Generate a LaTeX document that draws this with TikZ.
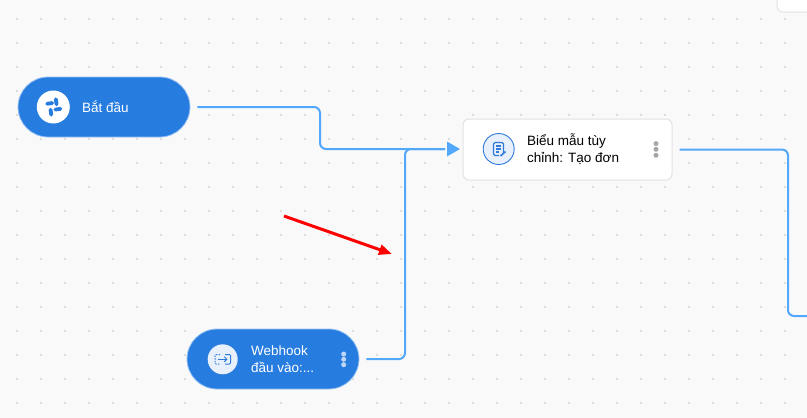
\documentclass[tikz,border=0pt]{standalone}
\usepackage{fontspec}
\setmainfont{Liberation Sans}
\usetikzlibrary{arrows.meta,calc,positioning}

\definecolor{canvasbg}{HTML}{F9F9F9}
\definecolor{griddot}{HTML}{DCDCDC}
\definecolor{pillblue}{HTML}{277CDF}
\definecolor{pilledge}{HTML}{9CC4F2}
\definecolor{flowblue}{HTML}{52A8FB}
\definecolor{cardedge}{HTML}{E2E2E2}
\definecolor{iconbg}{HTML}{E8F0FB}
\definecolor{iconblue}{HTML}{2F7ADB}
\definecolor{menugray}{HTML}{A6A6A6}
\definecolor{menulight}{HTML}{BFD7F5}

\tikzset{
  pill/.style={draw=pilledge,line width=0.8pt,fill=pillblue,rounded corners=30pt,minimum width=172pt,minimum height=60pt,inner sep=0pt},
  card/.style={draw=cardedge,line width=1pt,fill=white,rounded corners=6pt,inner sep=0pt},
  label/.style={font=\fontsize{13.5}{17}\selectfont,align=left,anchor=west,inner sep=0pt},
  iconbadge/.style={circle,inner sep=0pt,minimum size=#1},
  flow/.style={draw=flowblue,line width=2pt,rounded corners=6pt},
  menudot/.style={circle,inner sep=0pt,minimum size=5pt,fill=#1},
}

\begin{document}
\begin{tikzpicture}[x=1pt,y=-1pt]

% Canvas
\useasboundingbox (0,0) rectangle (807,418);
\clip (0,0) rectangle (807,418);
\fill[canvasbg] (0,0) rectangle (807,418);

% Grid dots
\foreach \gx in {0,...,33} {
  \foreach \gy in {0,...,16} {
    \fill[griddot] (17+24*\gx-1,19+24*\gy-1) rectangle ++(2,2);
  }
}

% Nodes
\node[pill] (start) at (104,107) {};
\node[pill] (webhook) at (273,359) {};
\node[card,minimum width=209pt,minimum height=61pt] (form) at (567.5,149.5) {};
\node[card,minimum width=80pt,minimum height=40pt] (corner) at (817,-8) {};

% Node labels
\node[label,text=white] (startlabel) at (82,107) {Bắt đầu};
\node[label] (formlabel) at (527,149) {Biểu mẫu tùy\\chỉnh: Tạo đơn};
\node[label,text=white] (webhooklabel) at (251,359.5) {Webhook\\đầu vào:...};

% Start icon
\node[iconbadge=33pt,fill=white] (starticon) at (53.3,107) {};
\foreach \ang/\ox/\oy in {82/2.9/-5.2, -8/-3.6/-3.6, 82/-2.4/5.2, -8/4.6/2.2} {
  \draw[pillblue,line width=3.8pt,line cap=round] ($(starticon.center)+(\ox,\oy)+(\ang:-2.6)$) -- ++(\ang:5.2);
}

% Form icon
\node[iconbadge=31pt,fill=iconbg,draw=iconblue,line width=0.9pt] (formicon) at (498.7,149) {};
\draw[iconblue,line width=1.1pt,rounded corners=1.5pt] (503.5,153) -- (503.5,142.5) -- (493.5,142.5) -- (493.5,155.5) -- (499,155.5);
\draw[iconblue,line width=1.1pt] (495.8,146) -- (501.2,146) (495.8,149) -- (501.2,149) (495.8,152) -- (498.5,152);
\draw[iconblue,line width=1.6pt] (500.5,156) -- (505.5,151.5);

% Webhook icon
\node[iconbadge=30pt,fill=iconbg] (webhookicon) at (222.7,359.3) {};
\draw[iconblue,line width=1pt,rounded corners=1pt] (225,354.5) -- (230.5,354.5) -- (230.5,364) -- (225,364);
\draw[iconblue,line width=1pt,dash pattern=on 1.5pt off 1.2pt,rounded corners=1pt] (220,354.5) -- (215,354.5) -- (215,364) -- (220,364);
\draw[iconblue,line width=1pt,-{Straight Barb[length=2.5pt,width=5pt]}] (217.5,359.3) -- (227.5,359.3);

% Menu dots
\foreach \dy [count=\i] in {-5.7,0,6} {
  \node[menudot=menugray] (formdot\i) at (656,149.3+\dy) {};
}
\foreach \dy [count=\i] in {-5.3,0,5.4} {
  \node[menudot=menulight] (webhookdot\i) at (343.7,359.3+\dy) {};
}

% Connector ends
\coordinate (tip) at (447,149);
\coordinate (startbend) at (320,128);
\coordinate (webhookbend) at (405,250);
\coordinate (exitbend) at (788,230);
\coordinate (exit) at (808,316);

% Connectors
\draw[flow,shorten <=7pt,shorten >=2pt] (start.east) -- (startbend |- start.east) -- (startbend |- tip) -- (tip);
\draw[flow,shorten <=7pt,shorten >=2pt] (webhook.east) -- (webhookbend |- webhook.east) -- (webhookbend |- tip) -- (tip);
\draw[flow,shorten <=7pt] (form.east) -- (exitbend |- form.east) -- (exitbend |- exit) -- (exit);

% Inlet triangle
\fill[flowblue] (tip) ++(0,-7.5) -- ++(13,7.5) -- ++(-13,7.5) -- cycle;

% Red arrow
\coordinate (arrowtail) at (284,216);
\coordinate (arrowhead) at (392,254);
\draw[red,line width=3pt,-{Triangle[length=13pt,width=10pt]}] (arrowtail) -- (arrowhead);

\end{tikzpicture}
\end{document}
